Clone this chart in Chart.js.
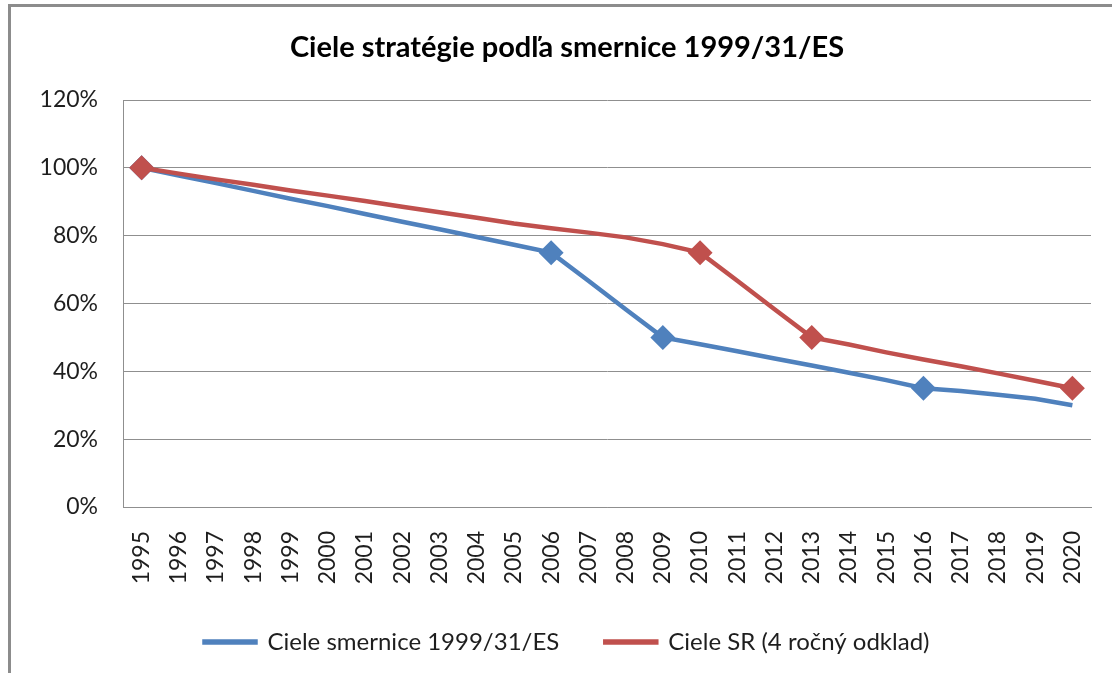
<!DOCTYPE html>
<html>
<head>
<meta charset="utf-8">
<script src="https://cdn.jsdelivr.net/npm/chart.js@4/dist/chart.umd.min.js"></script>
<style>
  html, body { margin: 0; padding: 0; background: #fff; overflow: hidden; }
  #wrap { position: absolute; left: 0; top: 0; width: 1134px; height: 673px; }
  #frame { position: absolute; left: 8px; top: 4px; width: 1200px; height: 700px;
           border-left: 3px solid #8c8c8c; border-top: 3px solid #8c8c8c; }
</style>
</head>
<body>
<div id="frame"></div>
<div id="wrap"><canvas id="c" width="1134" height="673"></canvas></div>
<script>
const chartTitle = 'Ciele stratégie podľa smernice 1999/31/ES';
const years = ['1995','1996','1997','1998','1999','2000','2001','2002','2003','2004','2005','2006','2007',
               '2008','2009','2010','2011','2012','2013','2014','2015','2016','2017','2018','2019','2020'];
const seriesNames = ['Ciele smernice 1999/31/ES', 'Ciele SR (4 ročný odklad)'];
const directiveTargets = [100, 97.7, 95.5, 93.2, 90.9, 88.7, 86.4, 84.1, 81.9, 79.6, 77.3, 75.0, 66.7,
                          58.3, 50.0, 48.0, 45.9, 43.8, 41.7, 39.6, 37.4, 35.0, 34.2, 33.1, 31.9, 30.0];
const srTargets = [100, 98.3, 96.6, 95.0, 93.3, 91.8, 90.2, 88.5, 86.9, 85.3, 83.6, 82.2, 80.9,
                   79.5, 77.5, 75.0, 66.7, 58.3, 50.0, 47.9, 45.6, 43.5, 41.5, 39.4, 37.2, 35.0];
const directiveMarkerYears = ['1995', '2006', '2009', '2016'];
const srMarkerYears = ['1995', '2010', '2013', '2020'];
const yTicks = [0, 20, 40, 60, 80, 100, 120];

const BLUE = '#4F81BD', RED = '#C0504D', GRID = '#8f8f8f', TXT = '#1e1e1e';
const FONT = 'Lato';

let yAxisW = 123, y2W = 43, xAxisH = 75, titlePadBottom = 36;

const cfg = {
  type: 'line',
  data: {
    labels: years,
    datasets: [
      { label: seriesNames[0], data: directiveTargets, order: 1,
        borderColor: BLUE, backgroundColor: BLUE, borderWidth: 4.5, tension: 0,
        pointStyle: 'rectRot', pointBorderWidth: 0,
        pointRadius: years.map(y => directiveMarkerYears.includes(y) ? 12.5 : 0),
        pointHoverRadius: years.map(y => directiveMarkerYears.includes(y) ? 12.5 : 0),
        pointBackgroundColor: BLUE },
      { label: seriesNames[1], data: srTargets, order: 0,
        borderColor: RED, backgroundColor: RED, borderWidth: 4.5, tension: 0,
        pointStyle: 'rectRot', pointBorderWidth: 0,
        pointRadius: years.map(y => srMarkerYears.includes(y) ? 12.5 : 0),
        pointHoverRadius: years.map(y => srMarkerYears.includes(y) ? 12.5 : 0),
        pointBackgroundColor: RED }
    ]
  },
  options: {
    responsive: false,
    animation: false,
    events: [],
    layout: { padding: { left: 0, right: 0, top: 0, bottom: 9 } },
    plugins: {
      title: { display: true, text: chartTitle, color: '#000',
               font: { family: FONT, size: 29, weight: 'bold' },
               padding: { top: 30, bottom: titlePadBottom } },
      legend: { position: 'bottom',
                labels: { font: { family: FONT, size: 24 }, color: TXT,
                          boxWidth: 51, boxHeight: 1, padding: 46,
                          sort: (a, b) => a.datasetIndex - b.datasetIndex } },
      tooltip: { enabled: false }
    },
    scales: {
      x: { type: 'category', offset: true,
           grid: { display: false, drawTicks: false },
           border: { display: true, color: GRID, width: 1 },
           ticks: { color: TXT, font: { family: FONT, size: 23 }, minRotation: 90, maxRotation: 90,
                    padding: 24, autoSkip: false },
           afterFit: s => { s.height = xAxisH; } },
      y: { position: 'left', min: 0, max: 120,
           afterBuildTicks: s => { s.ticks = yTicks.map(v => ({ value: v })); },
           grid: { color: GRID, lineWidth: 1, drawTicks: false },
           border: { display: true, color: GRID, width: 1 },
           ticks: { color: TXT, font: { family: FONT, size: 23 }, padding: 25,
                    callback: v => v + '%' },
           afterFit: s => { s.width = yAxisW; } },
      y2: { position: 'right', display: true, min: 0, max: 120,
            grid: { display: false, drawTicks: false }, border: { display: false },
            ticks: { display: false },
            afterFit: s => { s.width = y2W; } }
    }
  }
};

const chart = new Chart(document.getElementById('c'), cfg);
// pin the plot area to the reference rectangle
for (let i = 0; i < 3; i++) {
  const ca = chart.chartArea;
  yAxisW += 123 - ca.left;
  y2W += ca.right - 1091;
  xAxisH += ca.bottom - 507;
  titlePadBottom += 100 - ca.top;
  chart.options.plugins.title.padding.bottom = titlePadBottom;
  chart.update();
}
</script>
</body>
</html>
